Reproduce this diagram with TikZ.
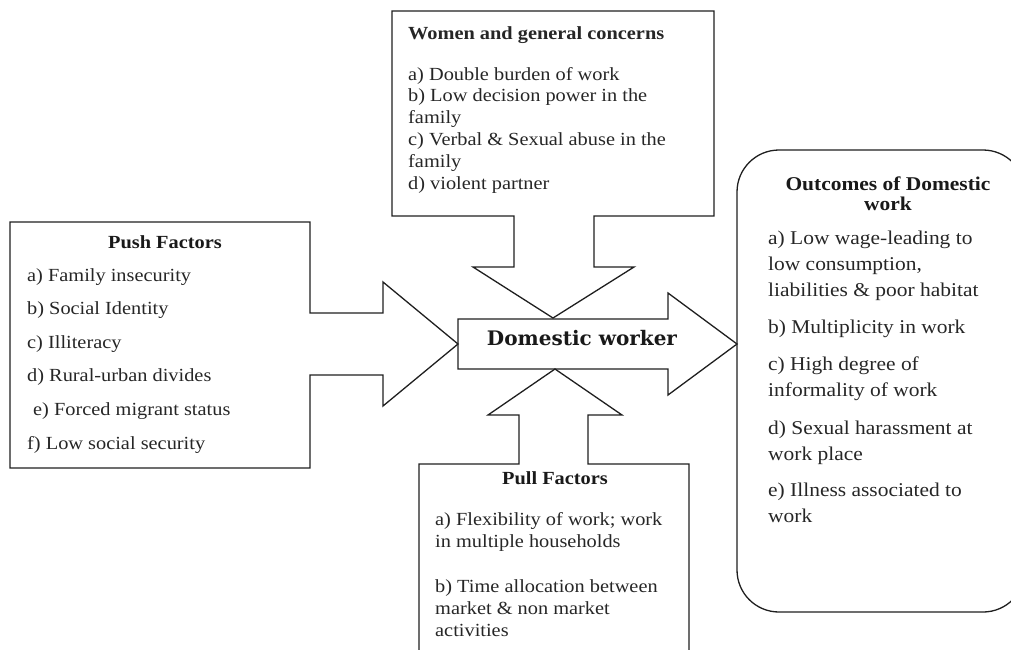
\documentclass[tikz,border=0pt]{standalone}
\usepackage{fontspec}
\setmainfont{Liberation Serif}[FakeStretch=1.1]
\newfontfamily\dwfont{DejaVu Serif}
\begin{document}
\begin{tikzpicture}[x=1pt,y=-1pt,
  outline/.style={draw=black!88, line width=1.3pt, line join=miter},
  body/.style={font=\fontsize{18.5}{21.8}\selectfont, text=black!85, inner sep=0pt, align=left, anchor=base west},
  head/.style={font=\fontsize{18.5}{20}\selectfont\bfseries, text=black!90, inner sep=0pt, align=center, anchor=base},
  bigtitle/.style={font=\dwfont\bfseries\fontsize{20}{22}\selectfont, text=black!90, inner sep=0pt, anchor=base}]
\useasboundingbox (0,0) rectangle (1011,649);

% top callout: Women and general concerns
\draw[outline] (392,11) -- (714,11) -- (714,216) -- (594,216) -- (594,267) -- (634,267)
  -- (553,318) -- (473,267) -- (514,267) -- (514,216) -- (392,216) -- cycle;
% left callout: Push factors
\draw[outline] (10,222) -- (310,222) -- (310,313) -- (383,313) -- (383,282) -- (458,344)
  -- (383,406) -- (383,375) -- (310,375) -- (310,468) -- (10,468) -- cycle;
% centre arrow
\draw[outline] (458,319) -- (668,319) -- (668,293) -- (737,344) -- (668,395) -- (668,369)
  -- (458,369) -- cycle;
% bottom callout: Pull factors
\draw[outline] (555,369) -- (622,415) -- (588,415) -- (588,464) -- (689,464) -- (689,670)
  -- (419,670) -- (419,464) -- (519,464) -- (519,415) -- (488,415) -- cycle;
% right rounded box
\draw[outline, rounded corners=42pt] (737,150) rectangle (1025,612);

% texts (base anchor = baseline of the last line)
\node[body] (women) at (408,189) {{\bfseries Women and general concerns}\\[19pt]
  a) Double burden of work\\
  b) Low decision power in the\\
  family\\
  c) Verbal \& Sexual abuse in the\\
  family\\
  d) violent partner};

\node[head] (pushT) at (165,248) {Push Factors};
\node[body, font=\fontsize{18.5}{33.6}\selectfont] (push) at (27,449) {a) Family insecurity\\
  b) Social Identity\\
  c) Illiteracy\\
  d) Rural-urban divides\\
  \hspace*{6pt}e) Forced migrant status\\
  f) Low social security};

\node[bigtitle] (dw) at (582,345) {Domestic worker};

\node[head] (pullT) at (555,484) {Pull Factors};
\node[body, font=\fontsize{18.5}{22}\selectfont] (pull) at (435,636) {a) Flexibility of work; work\\
  in multiple households\\[23pt]
  b) Time allocation between\\
  market \& non market\\
  activities};

\node[head, font=\fontsize{19.5}{20}\selectfont\bfseries] (outT) at (888,210) {Outcomes of Domestic\\ work};
\node[body, font=\fontsize{19.5}{26}\selectfont] (out) at (768,522) {a) Low wage-leading to\\
  low consumption,\\
  liabilities \& poor habitat\\[11pt]
  b) Multiplicity in work\\[11pt]
  c) High degree of\\
  informality of work\\[12pt]
  d) Sexual harassment at\\
  work place\\[10pt]
  e) Illness associated to\\
  work};
\end{tikzpicture}
\end{document}
